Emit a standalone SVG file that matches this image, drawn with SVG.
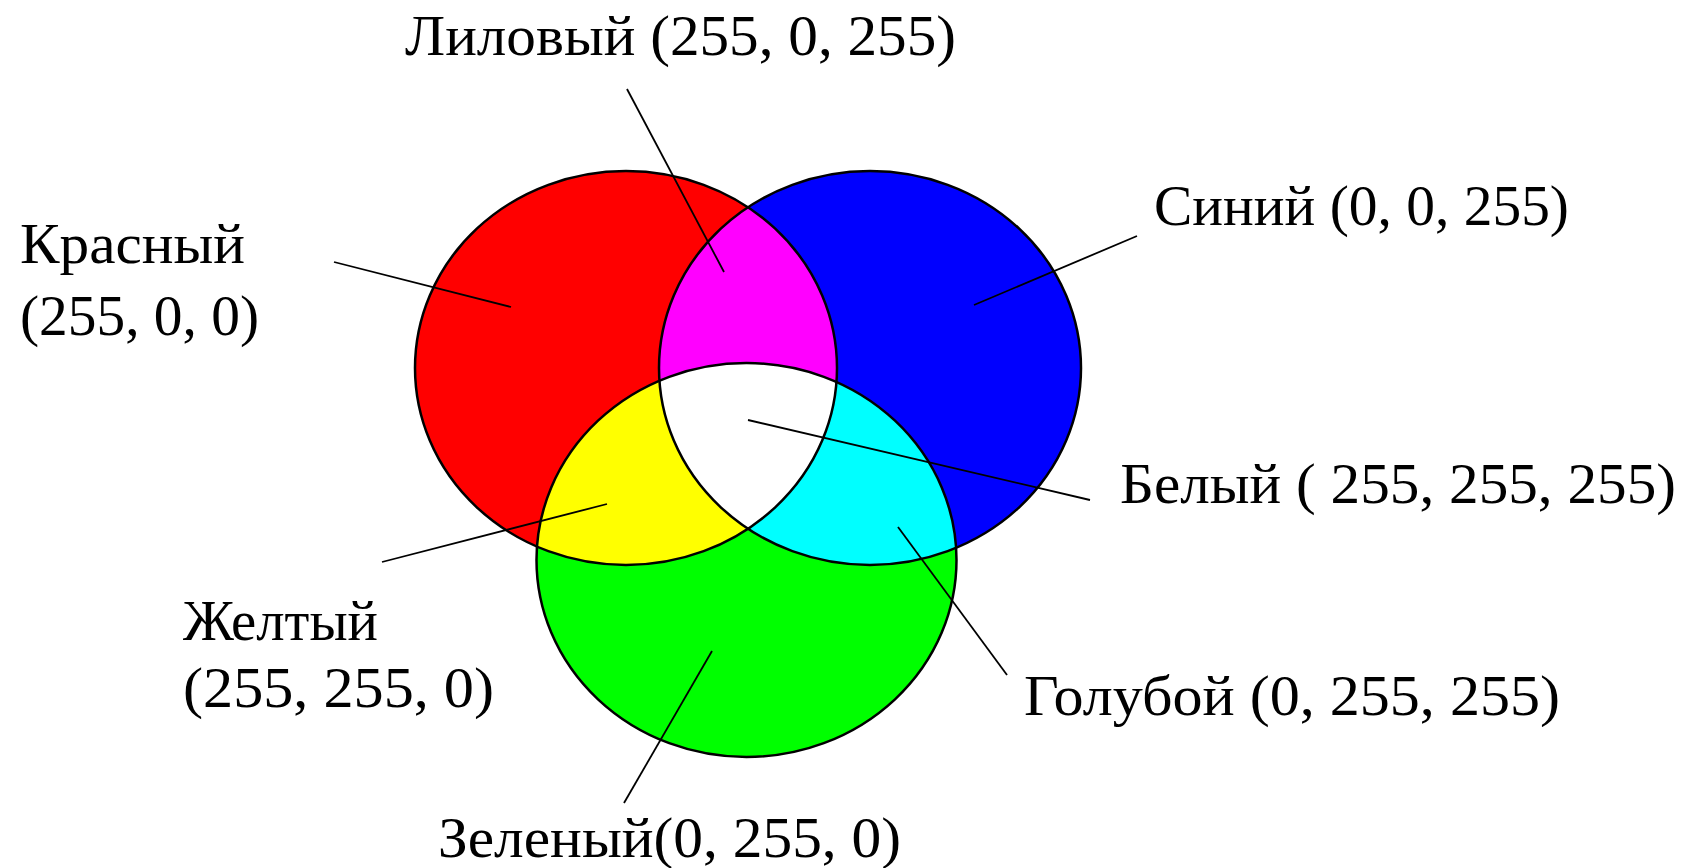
<svg xmlns="http://www.w3.org/2000/svg" width="1686" height="868" viewBox="0 0 1686 868">
<style>
.lbl{font-family:"Liberation Serif","Times New Roman",serif;font-size:58px;fill:#000;}
.ol{fill:none;stroke:#000;stroke-width:2.5;}
.ld{stroke:#000;stroke-width:1.8;fill:none;}
</style>
<defs>
<ellipse id="eR" cx="626" cy="368" rx="211" ry="197"/>
<ellipse id="eB" cx="870" cy="368" rx="211" ry="197"/>
<ellipse id="eG" cx="746.5" cy="560" rx="210" ry="197"/>
<clipPath id="cR"><use href="#eR"/></clipPath>
<clipPath id="cB"><use href="#eB"/></clipPath>
<clipPath id="cG"><use href="#eG"/></clipPath>
</defs>
<rect width="1686" height="868" fill="#fff"/>
<g id="red"><use href="#eR" fill="#FF0000"/></g>
<g id="blue"><use href="#eB" fill="#0000FF"/></g>
<g id="green"><use href="#eG" fill="#00FF00"/></g>
<g id="magenta" clip-path="url(#cR)"><use href="#eB" fill="#FF00FF"/></g>
<g id="yellow" clip-path="url(#cR)"><use href="#eG" fill="#FFFF00"/></g>
<g id="cyan" clip-path="url(#cB)"><use href="#eG" fill="#00FFFF"/></g>
<g id="white" clip-path="url(#cR)"><g clip-path="url(#cB)"><use href="#eG" fill="#FFFFFF"/></g></g>
<g id="outlines">
<use href="#eR" class="ol"/>
<use href="#eB" class="ol"/>
<use href="#eG" class="ol"/>
</g>
<g id="connectors">
<line class="ld" x1="627" y1="89" x2="724" y2="272"/>
<line class="ld" x1="334" y1="262" x2="511" y2="307"/>
<line class="ld" x1="1137" y1="236" x2="974" y2="305"/>
<line class="ld" x1="748" y1="420" x2="1090" y2="500"/>
<line class="ld" x1="607" y1="504" x2="382" y2="562"/>
<line class="ld" x1="898" y1="527" x2="1007" y2="675"/>
<line class="ld" x1="712" y1="651" x2="624" y2="803"/>
</g>
<g id="label-magenta"><text class="lbl" x="405" y="55" textLength="551" lengthAdjust="spacingAndGlyphs">Лиловый (255, 0, 255)</text></g>
<g id="label-red"><text class="lbl" x="20" y="263" textLength="225" lengthAdjust="spacingAndGlyphs">Красный</text><text class="lbl" x="20" y="335" textLength="239" lengthAdjust="spacingAndGlyphs">(255, 0, 0)</text></g>
<g id="label-blue"><text class="lbl" x="1154" y="225" textLength="415" lengthAdjust="spacingAndGlyphs">Синий (0, 0, 255)</text></g>
<g id="label-white"><text class="lbl" x="1120" y="503" textLength="556" lengthAdjust="spacingAndGlyphs">Белый ( 255, 255, 255)</text></g>
<g id="label-yellow"><text class="lbl" x="183" y="640" textLength="195" lengthAdjust="spacingAndGlyphs">Желтый</text><text class="lbl" x="183" y="707" textLength="311" lengthAdjust="spacingAndGlyphs">(255, 255, 0)</text></g>
<g id="label-cyan"><text class="lbl" x="1024" y="715" textLength="536" lengthAdjust="spacingAndGlyphs">Голубой (0, 255, 255)</text></g>
<g id="label-green"><text class="lbl" x="438" y="857" textLength="463" lengthAdjust="spacingAndGlyphs">Зеленый(0, 255, 0)</text></g>
</svg>
